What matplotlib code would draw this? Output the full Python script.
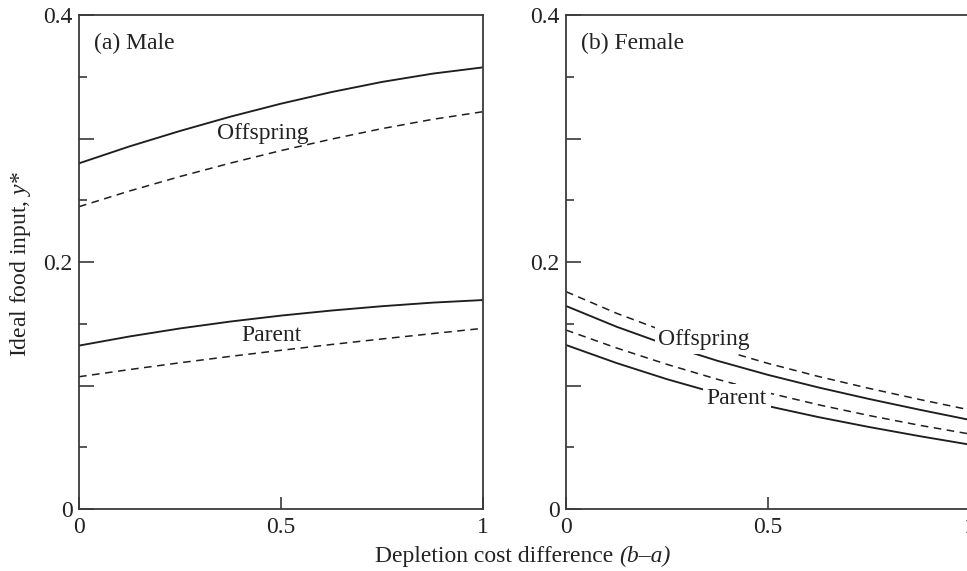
import matplotlib
matplotlib.use("Agg")
import matplotlib.pyplot as plt
from matplotlib.ticker import FixedLocator, FixedFormatter
from matplotlib.text import Annotation

plt.rcParams['font.family'] = ['Liberation Serif', 'DejaVu Serif']
plt.rcParams['mathtext.fontset'] = 'custom'
plt.rcParams['mathtext.rm'] = 'Liberation Serif'
plt.rcParams['mathtext.it'] = 'Liberation Serif:italic'

# ---- data ----
x = [0, 0.125, 0.25, 0.375, 0.5, 0.625, 0.75, 0.875, 1.0]

male_offspring_solid = [0.2799, 0.2936, 0.3061, 0.3177, 0.3282, 0.3376, 0.3458, 0.3525, 0.3576]
male_offspring_dashed = [0.2448, 0.2575, 0.2692, 0.2801, 0.2902, 0.2995, 0.3080, 0.3155, 0.3217]
male_parent_solid = [0.1323, 0.1397, 0.1462, 0.1518, 0.1566, 0.1607, 0.1642, 0.1671, 0.1692]
male_parent_dashed = [0.1071, 0.1129, 0.1184, 0.1236, 0.1285, 0.1332, 0.1377, 0.1420, 0.1463]

female_offspring_solid = [0.1644, 0.1476, 0.1329, 0.1200, 0.1086, 0.0984, 0.0891, 0.0804, 0.0721]
female_offspring_dashed = [0.1760, 0.1585, 0.1432, 0.1298, 0.1179, 0.1073, 0.0977, 0.0887, 0.0802]
female_parent_solid = [0.1328, 0.1182, 0.1051, 0.0935, 0.0833, 0.0744, 0.0664, 0.0590, 0.0521]
female_parent_dashed = [0.1449, 0.1304, 0.1171, 0.1050, 0.0941, 0.0844, 0.0757, 0.0678, 0.0607]

panel_titles = ["(a) Male", "(b) Female"]
y_major = [0, 0.1, 0.2, 0.3, 0.4]
y_major_labels = ["0", "", "0.2", "", "0.4"]
y_minor = [0.05, 0.15, 0.25, 0.35]
x_ticks = [0, 0.5, 1]
x_tick_labels = ["0", "0.5", "1"]

# ---- styling ----
W, H = 967, 571
line_col = '#1e1e1e'
spine_col = '#3a3a3a'
txt_col = '#222222'
fs = 17
dash = (0, (5, 3.6))

fig = plt.figure(figsize=(W / 100, H / 100), dpi=100)
ax_w = 404 / W
ax_h = 494 / H
ax_b = 62 / H
ax1 = fig.add_axes([79 / W, ax_b, ax_w, ax_h])
ax2 = fig.add_axes([566 / W, ax_b, ax_w, ax_h])

for ax in (ax1, ax2):
    ax.set_xlim(0, 1)
    ax.set_ylim(0, 0.4)
    for s in ax.spines.values():
        s.set_color(spine_col)
        s.set_linewidth(1.3)
    ax.yaxis.set_major_locator(FixedLocator(y_major))
    ax.yaxis.set_major_formatter(FixedFormatter(y_major_labels))
    ax.yaxis.set_minor_locator(FixedLocator(y_minor))
    ax.xaxis.set_major_locator(FixedLocator(x_ticks))
    ax.xaxis.set_major_formatter(FixedFormatter(x_tick_labels))
    ax.tick_params(axis='y', which='major', direction='in', length=11, width=1.2,
                   color=spine_col, labelsize=fs, pad=4.5, right=False)
    ax.tick_params(axis='y', which='minor', direction='in', length=6, width=1.2,
                   color=spine_col, right=False)
    ax.tick_params(axis='x', which='major', direction='in', length=8.5, width=1.2,
                   color=spine_col, labelsize=fs, pad=6, top=False)
    for lbl in ax.get_xticklabels() + ax.get_yticklabels():
        lbl.set_color(txt_col)

# Male panel
ax1.plot(x, male_offspring_solid, color=line_col, lw=1.35)
ax1.plot(x, male_offspring_dashed, color=line_col, lw=1.1, linestyle=dash)
ax1.plot(x, male_parent_solid, color=line_col, lw=1.35)
ax1.plot(x, male_parent_dashed, color=line_col, lw=1.1, linestyle=dash)
ax1.text(0.456, 0.300, "Offspring", ha='center', va='baseline', fontsize=fs, color=txt_col)
ax1.text(0.477, 0.136, "Parent", ha='center', va='baseline', fontsize=fs, color=txt_col)

# Female panel
ax2.plot(x, female_offspring_solid, color=line_col, lw=1.35)
ax2.plot(x, female_offspring_dashed, color=line_col, lw=1.1, linestyle=dash)
ax2.plot(x, female_parent_solid, color=line_col, lw=1.35)
ax2.plot(x, female_parent_dashed, color=line_col, lw=1.1, linestyle=dash)
box = dict(facecolor='white', edgecolor='none', pad=2.5)
ax2.text(0.342, 0.1328, "Offspring", ha='center', va='baseline', fontsize=fs,
         color=txt_col, bbox=box, zorder=5)
ax2.text(0.423, 0.085, "Parent", ha='center', va='baseline', fontsize=fs,
         color=txt_col, bbox=box, zorder=5)

for ax, t in zip((ax1, ax2), panel_titles):
    ax.text(0.038, 0.9306, t, transform=ax.transAxes, ha='left', va='baseline',
            fontsize=fs, color=txt_col)

# axis labels
fig.text(21 / W, (H - 264) / H, "Ideal food input, $y$*", rotation=90,
         ha='center', va='center', fontsize=fs, color=txt_col)
t1 = fig.text(375 / W, (H - 562) / H, "Depletion cost difference ", ha='left',
              va='baseline', fontsize=fs, color=txt_col)
fig.add_artist(Annotation("(b–a)", xy=(1, 0), xycoords=t1,
                          fontsize=fs, style='italic', color=txt_col,
                          ha='left', va='bottom'))

fig.savefig("out.png", dpi=100)
